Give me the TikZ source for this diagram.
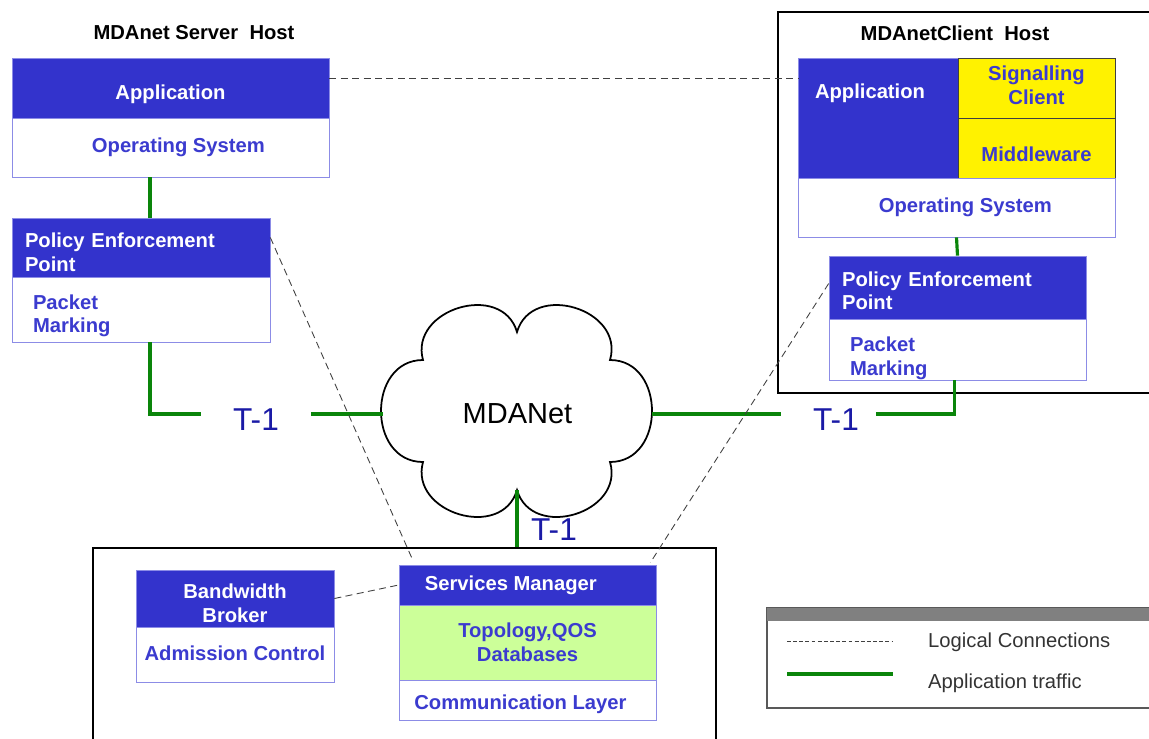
\documentclass[tikz,border=0pt]{standalone}
\usepackage{fontspec}
\setmainfont{Liberation Sans}
\usetikzlibrary{calc}

\definecolor{boxblue}{HTML}{3333CC}
\definecolor{txtblue}{HTML}{3B3BCF}
\definecolor{rimblue}{HTML}{8C8CE6}
\definecolor{dbgreen}{HTML}{CCFF99}
\definecolor{linkgreen}{HTML}{0A850A}
\definecolor{tnavy}{HTML}{1A1AA6}

\begin{document}
\begin{tikzpicture}[x=0.02cm,y=-0.02cm]

\tikzset{head/.style = {draw=rimblue, fill=boxblue, text=white, inner sep=0pt, align=center,
  font=\bfseries\fontsize{11.5}{13.5}\selectfont}}
\tikzset{body/.style = {draw=rimblue, fill=white, text=txtblue, inner sep=0pt, align=center,
  font=\bfseries\fontsize{11.5}{13.5}\selectfont}}
\tikzset{note/.style = {body, draw=black!75, fill=yellow}}
\tikzset{frame/.style = {draw, line width=1.5pt, inner sep=0pt}}
\tikzset{title/.style = {font=\bfseries\fontsize{11.5}{13.5}\selectfont}}
\tikzset{link/.style = {draw=linkgreen, line width=1.8pt}}
\tikzset{logic/.style = {draw=black!75, line width=0.5pt, dash pattern=on 4pt off 2.5pt}}
\tikzset{tone/.style = {text=tnavy, inner sep=1pt, font=\fontsize{18}{20}\selectfont}}

\useasboundingbox (0,0) rectangle (1149,738);

% frames
\node[frame, minimum width=7.56cm, minimum height=7.62cm] (chost) at (967,202.5) {};
\node[frame, minimum width=12.46cm, minimum height=3.94cm] (core) at (404.5,646.5) {};

% titles
\node[title] (stitle) at (194,33) {MDAnet Server\ \ Host};
\node[title] (ctitle) at (955,33) {MDAnetClient\ \ Host};

% server host
\node[head, minimum width=6.34cm, minimum height=1.2cm] (sapp) at (170.5,88) {\\[2pt]Application};
\node[body, minimum width=6.34cm, minimum height=1.18cm] (sos) at (170.5,147.5) {\hspace*{9pt}Operating System};
\node[head, minimum width=5.16cm, minimum height=1.18cm, text width=4.64cm, align=left]
  (spep) at (141,247.5) {\\[0pt]Policy Enforcement\\Point};
\node[body, minimum width=5.16cm, minimum height=1.3cm, text width=4.32cm, align=left]
  (spm) at (141,309.5) {\\[2pt]Packet\\Marking};

% client host
\node[head, minimum width=3.2cm, minimum height=2.4cm] (capp) at (878,118) {};
\node[title, text=white] (capptxt) at (870,93) {Application};
\node[note, minimum width=3.14cm, minimum height=1.2cm] (csig) at (1036.5,88) {Signalling\\Client\\[-10pt]};
\node[note, minimum width=3.14cm, minimum height=1.2cm] (cmid) at (1036.5,148) {\\[2pt]Middleware};
\node[body, minimum width=6.34cm, minimum height=1.18cm] (cos) at (956.5,207.5) {\hspace*{10pt}Operating System};
\node[head, minimum width=5.14cm, minimum height=1.26cm, text width=4.62cm, align=left]
  (cpep) at (957.5,287.5) {\\[-1.5pt]Policy Enforcement\\Point};
\node[body, minimum width=5.14cm, minimum height=1.22cm, text width=4.3cm, align=left]
  (cpm) at (957.5,349.5) {\\[5pt]Packet\\Marking};

% network cloud
\draw[fill=white, line width=1pt] (423,360) .. controls (409,309) and (502,281) .. (517,332)
  .. controls (532,281) and (625,309) .. (610,360)
  .. controls (666,360) and (666,462) .. (610,462)
  .. controls (625,513) and (532,541) .. (517,490)
  .. controls (502,541) and (409,513) .. (423,462)
  .. controls (367,462) and (367,360) .. (423,360) -- cycle;
\node[minimum width=5.38cm, minimum height=4.08cm, inner sep=0pt,
  font=\fontsize{16.5}{18}\selectfont] (net) at (517.5,414) {MDANet};
\coordinate (netb) at (517,490);

% services
\node[head, minimum width=3.96cm, minimum height=1.14cm] (bb) at (235,598.5) {\\[0pt]Bandwidth\\Broker};
\node[body, minimum width=3.96cm, minimum height=1.1cm] (ac) at (235,654.5) {Admission Control\\[-12pt]};
\node[head, minimum width=5.14cm, minimum height=0.8cm] (sm) at (527.5,585) {Services Manager\hspace*{19pt}};
\node[body, fill=dbgreen, minimum width=5.14cm, minimum height=1.5cm] (db) at (527.5,642.5) {Topology,QOS\\Databases};
\node[body, minimum width=5.14cm, minimum height=0.8cm] (cl) at (527.5,700) {\\[0pt]Communication Layer\hspace*{8pt}};

% T-1 labels
\node[tone] (tleft) at (256,420) {T-1};
\node[tone] (tright) at (836,420) {T-1};
\node[tone] (tdown) at (554,530) {T-1};

% application traffic
\draw[link] ([xshift=-0.41cm]sos.south) -- ([xshift=-0.41cm]sos.south |- spep.north);
\draw[link] (cos.south) -- (cpep.north);
\draw[link] ([xshift=0.18cm]spm.south) |- ([xshift=-0.6cm]tleft.west |- net.west);
\draw[link] ([xshift=0.6cm]tleft.east |- net.west) -- (net.west);
\draw[link] (net.east) -- ([xshift=-0.6cm]tright.west |- net.east);
\draw[link] ([xshift=0.3cm]tright.east |- net.east) -| ([xshift=-0.06cm]cpm.south);
\draw[link] (netb) -- (netb |- core.north);

% logical connections
\draw[logic] ([yshift=0.2cm]sapp.east) -- ([yshift=0.2cm]sapp.east -| capp.west);
\draw[logic] ([yshift=0.2cm]spep.east) -- ([xshift=0.26cm,yshift=0.14cm]sm.north west);
\draw[logic] ([yshift=0.08cm]cpep.west) -- ([xshift=-0.12cm,yshift=0.04cm]sm.north east);
\draw[logic] (bb.east) -- (sm.west);

% legend
\node[draw=black!65, line width=0.8pt, minimum width=7.76cm, minimum height=2cm, inner sep=0pt] (legend) at (961,658) {};
\node[fill=black!50, minimum width=7.76cm, minimum height=0.26cm, inner sep=0pt] (legbar) at (961,614.5) {};
\coordinate (la) at (787,641);
\coordinate (lb) at (892,641);
\coordinate (lc) at (787,674);
\coordinate (ld) at (893,674);
\draw[logic, dash pattern=on 2.2pt off 1.3pt] (la) -- (lb);
\draw[link] (lc) -- (ld);
\node[anchor=west, text=black!80, font=\fontsize{11.5}{13.5}\selectfont] (lgtxt) at (922,642) {Logical Connections};
\node[anchor=west, text=black!80, font=\fontsize{11.5}{13.5}\selectfont] (aptxt) at (922,683) {Application traffic};

\end{tikzpicture}
\end{document}
